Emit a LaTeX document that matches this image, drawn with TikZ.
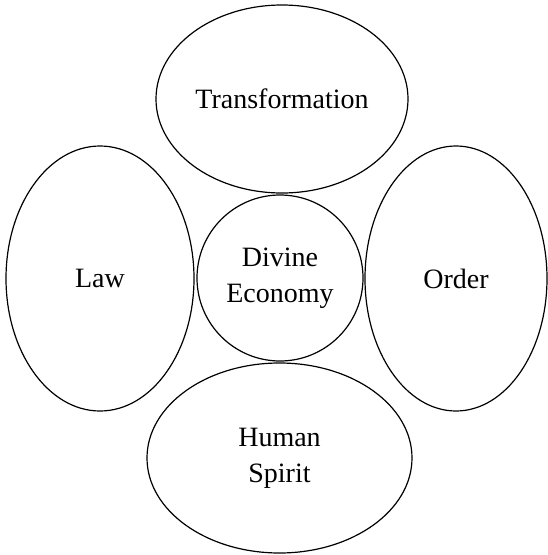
\documentclass[tikz,border=0pt]{standalone}
\usepackage{fontspec}
\setmainfont{Liberation Serif}
\usetikzlibrary{shapes.geometric}

\tikzset{
  blob/.style={ellipse, draw, line width=1.2pt, inner sep=0pt, align=center,
    font=\fontsize{28}{36}\selectfont},
  hub/.style={blob, circle}
}

\begin{document}
\begin{tikzpicture}[x=1pt, y=-1pt]
  \useasboundingbox (0,0) rectangle (547,555);

  % outer ring of four themes
  \node[blob, minimum width=252pt, minimum height=188pt] (transformation) at (282,99) {Transformation};
  \node[blob, minimum width=188pt, minimum height=265pt] (law) at (100,278.5) {Law};
  \node[blob, minimum width=182pt, minimum height=265pt] (order) at (456,278.5) {Order};
  \node[blob, minimum width=265pt, minimum height=190pt] (spirit) at (279.5,458) {Human\\Spirit};

  % central circle
  \node[hub, minimum size=166pt] (economy) at (280,278) {Divine\\Economy};
\end{tikzpicture}
\end{document}
